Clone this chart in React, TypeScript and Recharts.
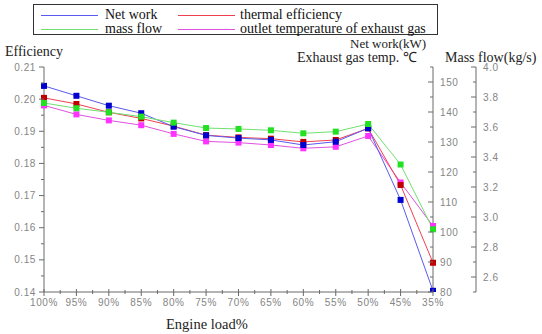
import React from "react";
import { LineChart, Line, XAxis, YAxis } from "recharts";

const categories = ["100%", "95%", "90%", "85%", "80%", "75%", "70%", "65%", "60%", "55%", "50%", "45%", "35%"];
const netWork = [148.7, 145.4, 142.1, 139.6, 135.1, 132.2, 131.3, 130.7, 129.0, 130.1, 134.6, 110.7, 80.4];
const thermalEff = [0.2004, 0.1985, 0.1959, 0.194, 0.1916, 0.1888, 0.1881, 0.1877, 0.1867, 0.1873, 0.1909, 0.1733, 0.1491];
const massFlow = [3.76, 3.725, 3.698, 3.669, 3.629, 3.593, 3.587, 3.578, 3.558, 3.569, 3.62, 3.35, 2.918];
const outletTemp = [142.2, 139.2, 137.2, 135.6, 132.7, 130.2, 129.8, 129.0, 127.9, 128.4, 132.0, 116.5, 102.0];

const effTicks = [0.14, 0.145, 0.15, 0.155, 0.16, 0.165, 0.17, 0.175, 0.18, 0.185, 0.19, 0.195, 0.2, 0.205, 0.21];
const tempTicks = [80, 85, 90, 95, 100, 105, 110, 115, 120, 125, 130, 135, 140, 145, 150, 155];
const massTicks = [2.5, 2.6, 2.7, 2.8, 2.9, 3.0, 3.1, 3.2, 3.3, 3.4, 3.5, 3.6, 3.7, 3.8, 3.9, 4.0];

const legendNames = ["Net work", "thermal efficiency", "mass flow", "outlet temperature of exhaust gas"];

const W = 542;
const H = 334;
const M = { top: 67, right: 0, bottom: 22, left: 0 };
const LEFT_W = 44;
const TEMP_W = 43;
const MASS_W = 66;
const X_H = 20;
const plotW = W - LEFT_W - TEMP_W - MASS_W;
const halfStep = plotW / (categories.length - 1) / 2;

const data = categories.map((c, i) => ({
  load: c,
  net: netWork[i],
  eff: thermalEff[i],
  mass: massFlow[i],
  temp: outletTemp[i],
}));

const AX = "#6a6a6a";
const TICK_TXT = "#858585";
const tickFont = { fontFamily: "'Liberation Sans', Arial, sans-serif", fontSize: 10, letterSpacing: 0.6 };

const LeftTick = (p: any) => {
  const { x, y, payload } = p;
  const v = payload.value;
  const major = Math.round(v * 1000) % 10 === 0;
  return (
    <g>
      <line x1={x - (major ? 5 : 3)} x2={x} y1={y} y2={y} stroke={AX} />
      {major && (
        <text x={x - 8} y={y + 3.5} textAnchor="end" fill={TICK_TXT} style={tickFont}>
          {v.toFixed(2)}
        </text>
      )}
    </g>
  );
};

const TempTick = (p: any) => {
  const { x, y, payload } = p;
  const v = payload.value;
  const major = v % 10 === 0 && v <= 150;
  return (
    <g>
      <line x1={x - (major ? 5 : 3)} x2={x} y1={y} y2={y} stroke={AX} />
      {major && (
        <text x={x + 7} y={y + 3.5} textAnchor="start" fill={TICK_TXT} style={tickFont}>
          {String(v)}
        </text>
      )}
    </g>
  );
};

const MassTick = (p: any) => {
  const { x, y, payload } = p;
  const v = payload.value;
  const major = Math.round(v * 10) % 2 === 0;
  return (
    <g>
      <line x1={x - (major ? 5 : 3)} x2={x} y1={y} y2={y} stroke={AX} />
      {major && (
        <text x={x + 7} y={y + 3.5} textAnchor="start" fill={TICK_TXT} style={tickFont}>
          {v.toFixed(1)}
        </text>
      )}
    </g>
  );
};

const XTick = (p: any) => {
  const { x, y, payload, index } = p;
  const last = index === categories.length - 1;
  return (
    <g>
      <line x1={x} x2={x} y1={y - 3} y2={y + 4} stroke={AX} />
      {!last && <line x1={x + halfStep} x2={x + halfStep} y1={y - 2} y2={y + 2} stroke={AX} />}
      <text x={x} y={y + 14} textAnchor="middle" fill={TICK_TXT} style={tickFont}>
        {payload.value}
      </text>
    </g>
  );
};

const makeDot = (fill: string) => (p: any) => {
  const { cx, cy, index } = p;
  return <rect key={`d-${fill}-${index}`} x={cx - 3} y={cy - 3} width={6} height={6} fill={fill} />;
};

const serif = "'Liberation Serif', 'Times New Roman', serif";

const series = [
  { name: legendNames[0], line: "#5a5af0", marker: "#0000d0" },
  { name: legendNames[1], line: "#f04050", marker: "#c00000" },
  { name: legendNames[2], line: "#70e070", marker: "#22e022" },
  { name: legendNames[3], line: "#e050e0", marker: "#ff33ff" },
];

const legendPos = [
  { lx: 41, tx: 105, y: 15 },
  { lx: 178, tx: 240, y: 15 },
  { lx: 41, tx: 105, y: 29 },
  { lx: 178, tx: 240, y: 29 },
];

const titleStyle = (left: number, top: number, size: number): React.CSSProperties => ({
  position: "absolute",
  left,
  top,
  fontFamily: serif,
  fontSize: size,
  lineHeight: "16px",
  color: "#222",
  whiteSpace: "nowrap",
});

export default function App() {
  return (
    <div style={{ position: "absolute", left: 0, top: 0, width: W, height: H, background: "#fff" }}>
      <LineChart width={W} height={H} data={data} margin={M}>
        <XAxis
          dataKey="load"
          height={X_H}
          stroke={AX}
          tickLine={false}
          tickSize={0}
          tickMargin={0}
          tick={<XTick />}
          interval={0}
        />
        <YAxis
          yAxisId="a_eff"
          orientation="left"
          width={LEFT_W}
          domain={[0.14, 0.21]}
          ticks={effTicks}
          stroke={AX}
          tickLine={false}
          tickSize={0}
          tickMargin={0}
          tick={<LeftTick />}
          interval={0}
          allowDataOverflow
        />
        <YAxis
          yAxisId="c_mass"
          orientation="right"
          width={MASS_W}
          domain={[2.5, 4.0]}
          ticks={massTicks}
          stroke={AX}
          tickLine={false}
          tickSize={0}
          tickMargin={0}
          tick={<MassTick />}
          interval={0}
          allowDataOverflow
        />
        <YAxis
          yAxisId="b_temp"
          orientation="right"
          width={TEMP_W}
          domain={[80, 155]}
          ticks={tempTicks}
          stroke={AX}
          tickLine={false}
          tickSize={0}
          tickMargin={0}
          tick={<TempTick />}
          interval={0}
          allowDataOverflow
        />
        <Line yAxisId="b_temp" dataKey="temp" stroke={series[3].line} strokeWidth={1} dot={makeDot(series[3].marker)} isAnimationActive={false} />
        <Line yAxisId="a_eff" dataKey="eff" stroke={series[1].line} strokeWidth={1} dot={makeDot(series[1].marker)} isAnimationActive={false} />
        <Line yAxisId="b_temp" dataKey="net" stroke={series[0].line} strokeWidth={1} dot={makeDot(series[0].marker)} isAnimationActive={false} />
        <Line yAxisId="c_mass" dataKey="mass" stroke={series[2].line} strokeWidth={1} dot={makeDot(series[2].marker)} isAnimationActive={false} />
      </LineChart>

      <div
        style={{
          position: "absolute",
          left: 33,
          top: 4,
          width: 403,
          height: 29,
          border: "1.5px solid #333",
          boxSizing: "content-box",
        }}
      />
      {series.map((s, i) => (
        <React.Fragment key={s.name}>
          <div
            style={{
              position: "absolute",
              left: legendPos[i].lx,
              top: legendPos[i].y,
              width: 57,
              height: 0,
              borderTop: `1.5px solid ${s.line}`,
            }}
          />
          <div
            style={{
              position: "absolute",
              left: legendPos[i].tx,
              top: legendPos[i].y - 8,
              fontFamily: serif,
              fontSize: 14,
              lineHeight: "16px",
              color: "#111",
              whiteSpace: "nowrap",
            }}
          >
            {s.name}
          </div>
        </React.Fragment>
      ))}

      <div style={titleStyle(5, 44, 14)}>Efficiency</div>
      <div style={titleStyle(350, 36, 13)}>Net work(kW)</div>
      <div style={titleStyle(297, 50, 14)}>Exhaust gas temp. ℃</div>
      <div style={titleStyle(445, 50, 14)}>Mass flow(kg/s)</div>
      <div style={titleStyle(166, 316, 14.5)}>Engine load%</div>
    </div>
  );
}
